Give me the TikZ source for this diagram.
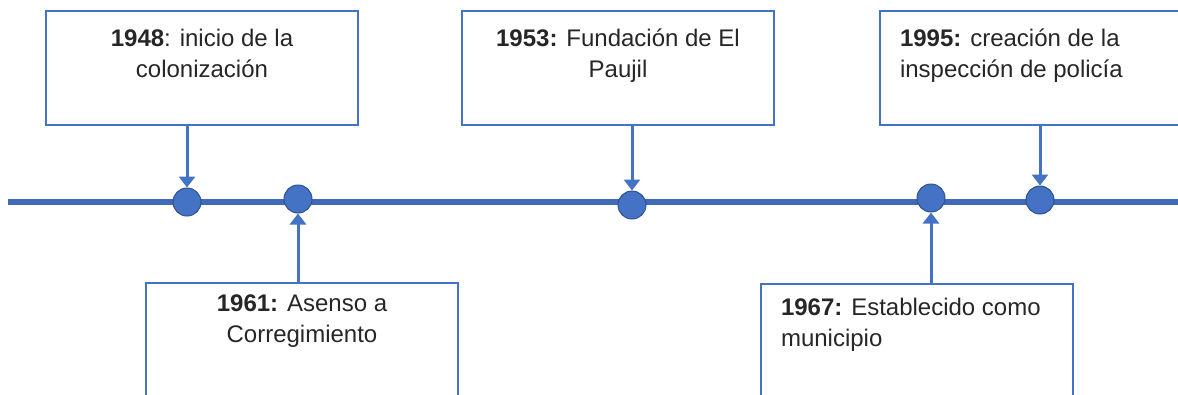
\documentclass[tikz,border=0pt]{standalone}
\usepackage{fontspec}
\setmainfont{Liberation Sans}
\usetikzlibrary{arrows.meta}
\definecolor{linea}{RGB}{68,114,196}
\definecolor{eje}{RGB}{64,106,184}
\definecolor{borde}{RGB}{47,82,143}
\begin{document}
\begin{tikzpicture}[x=1pt, y=-1pt, very thick]
			\tikzstyle{hito}   = [circle, minimum size=28pt, inner sep=0pt, draw=borde, fill=linea, line width=1pt]
			\tikzstyle{caja}   = [rectangle, minimum width=312pt, minimum height=114pt, inner sep=0pt, draw=linea, line width=1.2pt]
			\tikzstyle{texto}  = [inner sep=0pt, text=black!85, font=\fontsize{24}{31}\selectfont]
			\tikzstyle{flecha} = [draw=linea, line width=3pt, -{Triangle[width=16pt, length=11pt]}]

			\useasboundingbox (0,0) rectangle (1178,394);
			\clip (0,0) rectangle (1178,394);

%			linea de tiempo
			\coordinate (ini) at (8,202);
			\coordinate (fin) at (1180,202);
			\draw[eje, line width=6pt] (ini) -- (fin);

			\foreach \nombre/\x/\y in {c1/187/202, c2/298/199, c3/632/205, c4/931/198, c5/1040/200}
				\node[hito] (\nombre) at (\x, \y) {};

			\foreach \nombre/\x/\y in {b1/202/68, b2/618/68, b3/1036/68, b4/302/340, b5/917/341}
				\node[caja] (\nombre) at (\x, \y) {};

			\node[texto, anchor=north, align=center] (t1) at ([yshift=-18pt]b1.north) {\textbf{1948}: inicio de la\\colonización};
			\node[texto, anchor=north, align=center] (t2) at ([yshift=-18pt]b2.north) {\textbf{1953:} Fundación de El\\Paujil};
			\node[texto, anchor=north west, align=left] (t3) at ([xshift=20pt, yshift=-18pt]b3.north west) {\textbf{1995:} creación de la\\inspección de policía};
			\node[texto, anchor=north, align=center] (t4) at ([yshift=-12pt]b4.north) {\textbf{1961:} Asenso a\\Corregimiento};
			\node[texto, anchor=north west, align=left] (t5) at ([xshift=20pt, yshift=-14pt]b5.north west) {\textbf{1967:} Establecido como\\municipio};

			\foreach \desde/\hacia in {b1/c1, b2/c3, b3/c5}
				\draw[flecha] (\desde.south -| \hacia) -- (\hacia);
			\foreach \desde/\hacia in {b4/c2, b5/c4}
				\draw[flecha] (\desde.north -| \hacia) -- (\hacia);

		\end{tikzpicture}
\end{document}
